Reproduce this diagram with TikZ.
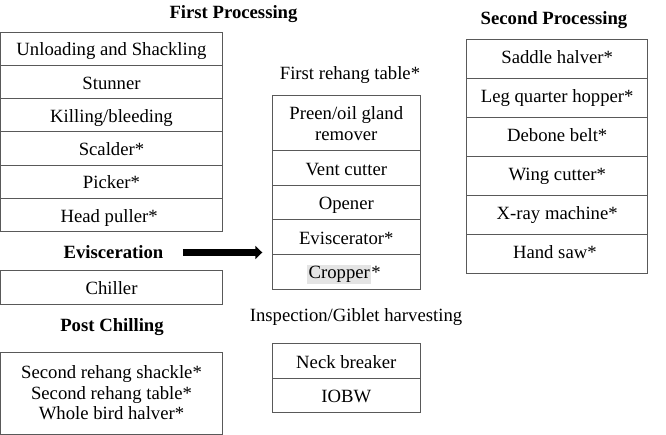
\documentclass[tikz,border=0pt]{standalone}
\usepackage{fontspec}
\setmainfont{Liberation Serif}
\usetikzlibrary{arrows.meta, positioning}
\setlength{\fboxsep}{1.5pt}
\definecolor{hlgray}{RGB}{228,228,228}

\begin{document}
\begin{tikzpicture}[x=1pt, y=-1pt, node distance = 0pt and 0pt,
  every node/.style={font=\fontsize{18.7}{21}\selectfont},
  cell/.style={draw=black!65, line width=0.9pt, inner sep=0pt, outer sep=0pt, align=center},
  row/.style={cell, text height=16pt, text depth=1.6pt},
  rrow/.style={cell, text height=12.6pt, text depth=3.6pt},
  head/.style={font=\fontsize{18.7}{21}\selectfont\bfseries},
  bigarrow/.style={line width=7pt, -{Triangle[width=13pt, length=7pt]}}]
\useasboundingbox (0,0) rectangle (666,435);
%
\node (fphead) [head] at (233.5,14) {First Processing};
\node (fp1) [row, minimum width=222pt, minimum height=33.25pt] at (111.5,48.6) {Unloading and Shackling};
\foreach \t [count=\xi from 2, remember=\xi as \lastxi (initially 1)] in {
  Stunner,
  Killing/bleeding,
  Scalder*,
  Picker*,
  Head puller*
}
  \node (fp\xi) [row, minimum width=222pt, minimum height=33.25pt, below=of fp\lastxi] {\t};
%
\node (evis) [head] at (113.5,252.5) {Evisceration};
\node (chill) [row, minimum width=222pt, minimum height=34pt] at (111.5,287) {Chiller};
\node (pchead) [head] at (112,327) {Post Chilling};
\node (pc) [cell, minimum width=222pt, minimum height=82pt, font=\fontsize{18.7}{20.5}\selectfont] at (111.5,393)
  {Second rehang shackle*\\Second rehang table*\\Whole bird halver*};
%
\node (mrhead) at (350,75) {First rehang table*};
\node (mr1) [cell, minimum width=148pt, minimum height=55pt] at (346.3,123.2) {Preen/oil gland\\remover};
\foreach \t [count=\xi from 2, remember=\xi as \lastxi (initially 1)] in {
  Vent cutter,
  Opener,
  Eviscerator*,
  {\colorbox{hlgray}{Cropper}*}
}
  \node (mr\xi) [row, minimum width=148pt, minimum height=34.6pt, below=of mr\lastxi] {\t};
%
\node (nbhead) at (356,317.5) {Inspection/Giblet harvesting};
\node (nb1) [row, minimum width=148pt, minimum height=35pt] at (346.3,360.8) {Neck breaker};
\node (nb2) [row, minimum width=148pt, minimum height=34.4pt, below=of nb1] {IOBW};
%
\node (sphead) [head] at (554,20) {Second Processing};
\node (sp1) [rrow, minimum width=181pt, minimum height=39.1pt] at (557.2,58.85) {Saddle halver*};
\foreach \t [count=\xi from 2, remember=\xi as \lastxi (initially 1)] in {
  Leg quarter hopper*,
  Debone belt*,
  Wing cutter*,
  X-ray machine*,
  Hand saw*
}
  \node (sp\xi) [rrow, minimum width=181pt, minimum height=39.1pt, below=of sp\lastxi] {\t};
%
\draw[bigarrow, shorten <=16pt, shorten >=10pt] (evis.east) -- (evis.east -| mr4.west);

\end{tikzpicture}
\end{document}
